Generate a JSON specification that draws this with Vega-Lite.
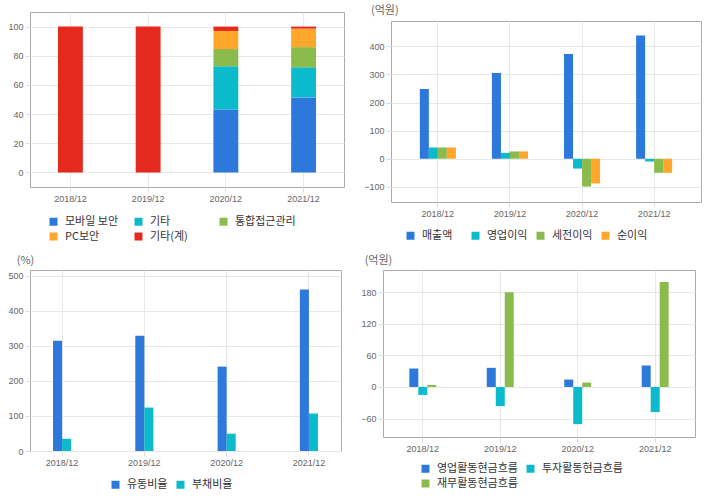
{
  "$schema": "https://vega.github.io/schema/vega-lite/v6.json",
  "padding": {"left": 7, "top": 5, "right": 5, "bottom": 3},
  "background": "white",
  "spacing": 10,
  "resolve": {"scale": {"color": "independent", "xOffset": "independent", "x": "independent", "y": "independent"}, "legend": {"color": "independent"}},
  "config": {
    "view": {"stroke": "#aaaaaa", "strokeWidth": 1},
    "axis": {"labelFont": "Liberation Sans", "labelFontSize": 9, "labelColor": "#666666", "gridColor": "#e8e8e8", "tickColor": "#dddddd", "tickSize": 5, "domain": false, "titleFont": "Noto Sans CJK KR", "titleFontSize": 11, "titleColor": "#666666", "titleFontWeight": "normal"},
    "axisX": {"labelAngle": 0, "labelPadding": 2, "bandPosition": 0.5},
    "axisY": {"labelPadding": 2},
    "legend": {"orient": "none", "symbolType": "square", "symbolSize": 64, "symbolStrokeWidth": 0, "labelFont": "Noto Sans CJK KR", "labelFontSize": 11, "labelColor": "#333333", "labelOffset": 6, "columnPadding": 7, "rowPadding": 3, "gridAlign": "all", "direction": "horizontal", "padding": 0}
  },
  "vconcat": [
    {
      "spacing": 18,
      "resolve": {"scale": {"color": "independent", "xOffset": "independent"}, "legend": {"color": "independent"}},
      "hconcat": [
        {
          "width": 314,
          "height": 175,
          "data": {"values": [
            {"year": "2018/12", "item": "기타(계)", "ord": 4, "value": 100},
            {"year": "2019/12", "item": "기타(계)", "ord": 4, "value": 100},
            {"year": "2020/12", "item": "모바일 보안", "ord": 0, "value": 43.1},
            {"year": "2020/12", "item": "기타", "ord": 1, "value": 29.7},
            {"year": "2020/12", "item": "통합접근관리", "ord": 2, "value": 11.8},
            {"year": "2020/12", "item": "PC보안", "ord": 3, "value": 12.4},
            {"year": "2020/12", "item": "기타(계)", "ord": 4, "value": 3.0},
            {"year": "2021/12", "item": "모바일 보안", "ord": 0, "value": 51.4},
            {"year": "2021/12", "item": "기타", "ord": 1, "value": 20.7},
            {"year": "2021/12", "item": "통합접근관리", "ord": 2, "value": 13.8},
            {"year": "2021/12", "item": "PC보안", "ord": 3, "value": 12.7},
            {"year": "2021/12", "item": "기타(계)", "ord": 4, "value": 1.4}
          ]},
          "mark": {"type": "bar"},
          "encoding": {
            "x": {"field": "year", "type": "nominal", "title": null, "scale": {"paddingInner": 0.68, "paddingOuter": 0.36}, "axis": {"grid": true}},
            "y": {"field": "value", "type": "quantitative", "stack": "zero", "title": null, "scale": {"domain": [-10, 110], "nice": false, "zero": false}, "axis": {"values": [0, 20, 40, 60, 80, 100]}},
            "color": {"field": "item", "type": "nominal", "title": null, "scale": {"domain": ["모바일 보안", "기타", "통합접근관리", "PC보안", "기타(계)"], "range": ["#2c78db", "#0bbbcc", "#8bbb4c", "#ffa62b", "#e5291e"]}, "legend": {"columns": 3, "legendX": 18, "legendY": 204}},
            "order": {"field": "ord", "type": "quantitative"}
          }
        },
        {
          "spacing": 4,
          "resolve": {"scale": {"color": "independent"}, "legend": {"color": "independent"}},
          "vconcat": [
            {
              "width": 310,
              "height": 1,
              "data": {"values": []},
              "mark": {"type": "rule"},
              "encoding": {},
              "view": {"stroke": null},
              "title": {"text": "(억원)", "anchor": "start", "frame": "group", "dx": -20, "dy": 4, "offset": 0, "font": "Noto Sans CJK KR", "fontSize": 11, "fontWeight": "normal", "color": "#666666"}
            },
            {
              "width": 310,
              "height": 181,
              "data": {"values": [
                {"year": "2018/12", "item": "매출액", "value": 248.5},
                {"year": "2018/12", "item": "영업이익", "value": 40},
                {"year": "2018/12", "item": "세전이익", "value": 40},
                {"year": "2018/12", "item": "순이익", "value": 40},
                {"year": "2019/12", "item": "매출액", "value": 305},
                {"year": "2019/12", "item": "영업이익", "value": 21},
                {"year": "2019/12", "item": "세전이익", "value": 26},
                {"year": "2019/12", "item": "순이익", "value": 26},
                {"year": "2020/12", "item": "매출액", "value": 373},
                {"year": "2020/12", "item": "영업이익", "value": -35},
                {"year": "2020/12", "item": "세전이익", "value": -99},
                {"year": "2020/12", "item": "순이익", "value": -88},
                {"year": "2021/12", "item": "매출액", "value": 438},
                {"year": "2021/12", "item": "영업이익", "value": -9.5},
                {"year": "2021/12", "item": "세전이익", "value": -50},
                {"year": "2021/12", "item": "순이익", "value": -50}
              ]},
              "mark": {"type": "bar"},
              "encoding": {
                "x": {"field": "year", "type": "nominal", "title": null, "scale": {"paddingInner": 0.5, "paddingOuter": 0.4}, "axis": {"grid": true}},
                "xOffset": {"field": "item", "type": "nominal", "sort": ["매출액", "영업이익", "세전이익", "순이익"], "scale": {"paddingInner": 0, "paddingOuter": 0}},
                "y": {"field": "value", "type": "quantitative", "title": null, "scale": {"domain": [-154, 490], "nice": false}, "axis": {"values": [-100, 0, 100, 200, 300, 400]}},
                "color": {"field": "item", "type": "nominal", "title": null, "scale": {"domain": ["매출액", "영업이익", "세전이익", "순이익"], "range": ["#2c78db", "#0bbbcc", "#8bbb4c", "#ffa62b"]}, "legend": {"columns": 4, "legendX": 14, "legendY": 209}}
              }
            }
          ]
        }
      ]
    },
    {
      "spacing": 18,
      "resolve": {"scale": {"color": "independent", "xOffset": "independent"}, "legend": {"color": "independent"}},
      "hconcat": [
        {
          "width": 311,
          "height": 181,
          "data": {"values": [
            {"year": "2018/12", "item": "유동비율", "value": 315},
            {"year": "2018/12", "item": "부채비율", "value": 35},
            {"year": "2019/12", "item": "유동비율", "value": 329.5},
            {"year": "2019/12", "item": "부채비율", "value": 124},
            {"year": "2020/12", "item": "유동비율", "value": 241},
            {"year": "2020/12", "item": "부채비율", "value": 49.5},
            {"year": "2021/12", "item": "유동비율", "value": 461},
            {"year": "2021/12", "item": "부채비율", "value": 107}
          ]},
          "mark": {"type": "bar"},
          "encoding": {
            "x": {"field": "year", "type": "nominal", "title": null, "scale": {"paddingInner": 0.78, "paddingOuter": 0.28}, "axis": {"grid": true}},
            "xOffset": {"field": "item", "type": "nominal", "sort": ["유동비율", "부채비율"], "scale": {"paddingInner": 0, "paddingOuter": 0}},
            "y": {"field": "value", "type": "quantitative", "scale": {"domain": [0, 517], "nice": false}, "axis": {"values": [0, 100, 200, 300, 400, 500], "title": "(%)", "titleAngle": 0, "titleAlign": "center", "titleBaseline": "middle", "titleX": -5, "titleY": -10}},
            "color": {"field": "item", "type": "nominal", "title": null, "scale": {"domain": ["유동비율", "부채비율"], "range": ["#2c78db", "#0bbbcc"]}, "legend": {"columns": 2, "legendX": 80, "legendY": 209}}
          }
        },
        {
          "width": 312,
          "height": 167,
          "data": {"values": [
            {"year": "2018/12", "item": "영업활동현금흐름", "value": 35},
            {"year": "2018/12", "item": "투자활동현금흐름", "value": -15.3},
            {"year": "2018/12", "item": "재무활동현금흐름", "value": 3.8},
            {"year": "2019/12", "item": "영업활동현금흐름", "value": 36.3},
            {"year": "2019/12", "item": "투자활동현금흐름", "value": -36.3},
            {"year": "2019/12", "item": "재무활동현금흐름", "value": 180},
            {"year": "2020/12", "item": "영업활동현금흐름", "value": 14},
            {"year": "2020/12", "item": "투자활동현금흐름", "value": -70.6},
            {"year": "2020/12", "item": "재무활동현금흐름", "value": 8.3},
            {"year": "2021/12", "item": "영업활동현금흐름", "value": 40.7},
            {"year": "2021/12", "item": "투자활동현금흐름", "value": -47.7},
            {"year": "2021/12", "item": "재무활동현금흐름", "value": 199}
          ]},
          "mark": {"type": "bar"},
          "encoding": {
            "x": {"field": "year", "type": "nominal", "title": null, "scale": {"paddingInner": 0.652, "paddingOuter": 0.34}, "axis": {"grid": true}},
            "xOffset": {"field": "item", "type": "nominal", "sort": ["영업활동현금흐름", "투자활동현금흐름", "재무활동현금흐름"], "scale": {"paddingInner": 0, "paddingOuter": 0}},
            "y": {"field": "value", "type": "quantitative", "scale": {"domain": [-95, 222], "nice": false}, "axis": {"values": [-60, 0, 60, 120, 180], "title": "(억원)", "titleAngle": 0, "titleAlign": "center", "titleBaseline": "middle", "titleX": -5, "titleY": -10}},
            "color": {"field": "item", "type": "nominal", "title": null, "scale": {"domain": ["영업활동현금흐름", "투자활동현금흐름", "재무활동현금흐름"], "range": ["#2c78db", "#0bbbcc", "#8bbb4c"]}, "legend": {"columns": 2, "legendX": 37, "legendY": 193, "rowPadding": 3}}
          }
        }
      ]
    }
  ]
}
